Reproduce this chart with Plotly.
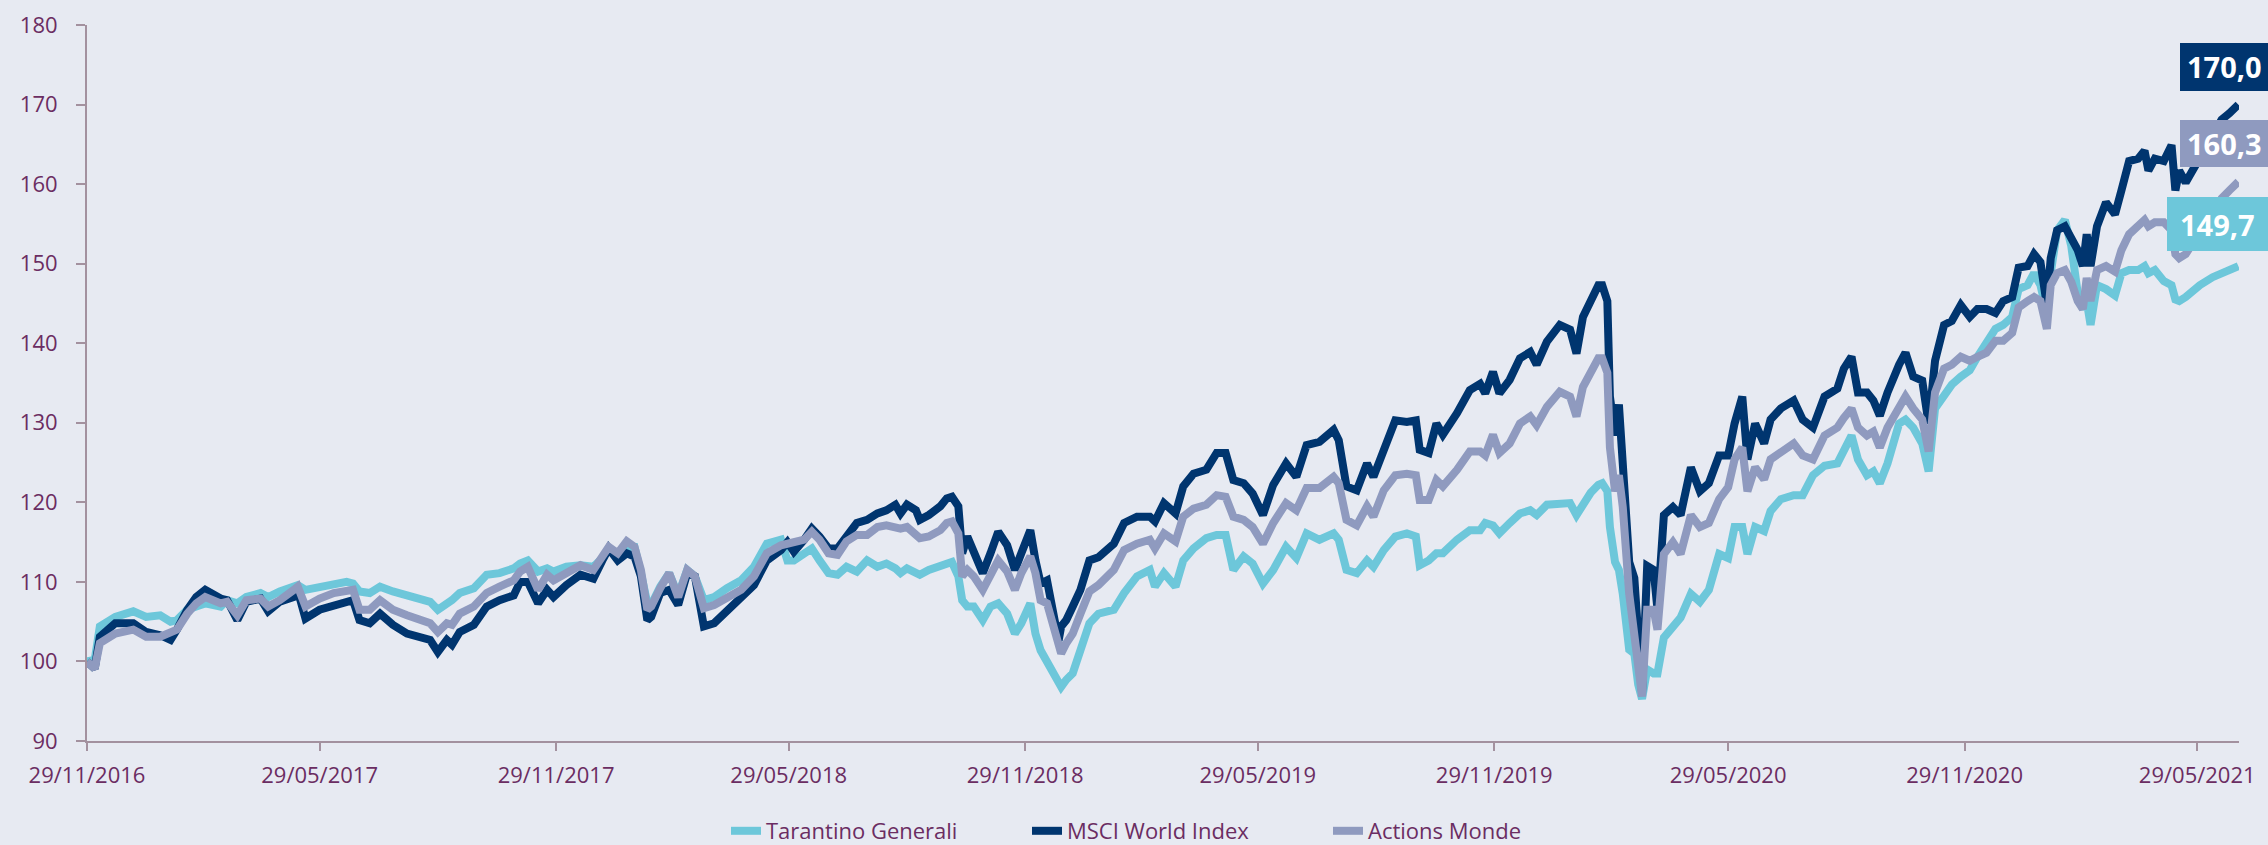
import pandas as pd
import plotly.graph_objects as go

# ---------------- data ----------------
start_date = "2016-11-29"
day_offsets = [
    0, 4, 6, 10, 18, 22, 36, 46, 57, 65, 70, 78, 85, 92, 104, 109, 117, 124, 135, 141,
    150, 161, 164, 170, 181, 192, 202, 207, 212, 220, 228, 238, 249, 259, 267, 273, 280, 284, 290, 301,
    311, 321, 332, 337, 343, 351, 358, 363, 373, 384, 394,
    401, 406, 413, 420, 426, 431, 436, 439, 446, 453, 460, 467, 473, 480, 488, 498, 509, 519, 529, 540,
    545, 550, 558, 564, 570, 577, 584, 591, 599, 607, 615, 622, 629, 633, 638, 645, 648, 655, 664, 669,
    673, 678, 681, 685, 690, 697, 703, 709, 716, 722, 727, 734, 738, 742, 747, 751, 756, 758, 762, 767,
    773, 780, 787, 799, 807, 817, 827, 831, 838, 847, 853, 861, 871, 879, 886, 892, 900, 907, 915, 923,
    933, 941, 949, 959, 970, 974, 980, 988, 996, 1001, 1009, 1018, 1027, 1034, 1037, 1044, 1050, 1055, 1066, 1076,
    1084, 1088, 1094, 1099, 1107, 1115, 1123, 1128, 1136, 1146, 1154, 1159, 1164, 1170, 1176,
    1179, 1183, 1185, 1189, 1192, 1195, 1200, 1204, 1207, 1210, 1214, 1219, 1222, 1227, 1234, 1240, 1248, 1255, 1262, 1270,
    1277, 1282, 1288, 1292, 1298, 1305, 1310, 1318, 1328, 1335, 1343, 1352, 1362, 1367, 1373, 1378, 1385, 1390, 1395, 1401,
    1410, 1415, 1421, 1428, 1433, 1438, 1445, 1451, 1458, 1465, 1471, 1478, 1485, 1491, 1498, 1503, 1510, 1515, 1520, 1525,
    1528, 1533, 1539, 1544, 1549, 1553, 1556, 1559, 1564, 1571, 1578, 1583, 1589, 1596, 1601, 1604, 1609, 1616, 1622, 1625,
    1628, 1633, 1638, 1644, 1654, 1661, 1667, 1674,
]

tarantino_generali = [
    100.0, 100.3, 100.2, 104.4, 105.4, 105.6, 106.3, 105.6, 105.8, 105.0, 105.2, 106.5, 106.9, 107.3, 106.9, 107.7, 107.3, 108.1, 108.6, 108.1,
    108.8, 109.4, 109.6, 109.0, 109.4, 109.6, 110.0, 109.8, 108.8, 108.6, 109.4, 108.8, 108.3, 107.7, 107.5, 106.5, 107.1, 107.7, 108.6, 109.2,
    110.9, 111.1, 111.7, 112.3, 112.7, 111.3, 111.7, 111.3, 111.9, 112.1, 111.9,
    113.0, 114.2, 113.2, 114.4, 114.4, 111.1, 107.3, 107.1, 109.4, 111.1, 108.3, 111.5, 110.7, 107.7, 108.1, 109.2, 110.2, 111.9, 114.8, 115.3,
    112.7, 112.7, 113.6, 114.2, 112.7, 111.1, 110.9, 111.9, 111.3, 112.7, 111.9, 112.3, 111.7, 111.1, 111.7, 111.3, 110.9, 111.5, 112.1, 112.3,
    112.5, 110.7, 107.7, 106.9, 106.9, 105.2, 106.9, 107.3, 106.0, 103.5, 104.8, 107.3, 103.5, 101.4, 99.8, 98.5, 97.0, 96.8, 97.7, 98.5,
    101.4, 104.8, 106.0, 106.5, 108.6, 110.7, 111.5, 109.4, 111.1, 109.4, 112.7, 114.2, 115.5, 115.9, 115.9, 111.5, 113.2, 112.3, 109.8, 111.5,
    114.4, 113.0, 116.1, 115.3, 116.1, 115.3, 111.5, 111.1, 112.7, 111.9, 114.0, 115.7, 116.1, 115.7, 112.1, 112.7, 113.6, 113.6, 115.3, 116.5,
    116.5, 117.4, 117.1, 116.1, 117.4, 118.6, 119.0, 118.4, 119.7, 119.9, 119.9, 118.4, 119.9, 121.2, 122.2,
    122.4, 121.4, 116.9, 112.5, 111.5, 108.5, 101.5, 101.0, 97.1, 95.3, 99.0, 98.5, 98.5, 103.0, 104.5, 105.5, 108.5, 107.5, 109.0, 113.5,
    113.0, 116.9, 116.9, 113.5, 116.9, 116.4, 118.9, 120.4, 120.9, 120.9, 123.4, 124.6, 124.9, 126.4, 128.4, 125.4, 123.4, 123.9, 122.4, 124.9,
    129.9, 130.4, 129.4, 127.4, 123.9, 131.8, 133.3, 134.8, 135.8, 136.6, 138.3, 140.3, 141.8, 142.3, 143.3, 146.8, 147.3, 148.8, 147.3, 143.8,
    148.8, 154.2, 155.5, 152.2, 146.3, 144.3, 145.3, 142.3, 147.3, 146.8, 146.0, 148.8, 149.2, 149.2, 149.7, 148.8, 149.2, 147.8, 147.3, 145.5,
    145.3, 145.8, 146.5, 147.3, 148.3, 148.8, 149.2, 149.7,
]

msci_world_index = [
    100.0, 99.3, 99.1, 103.1, 104.2, 104.8, 104.8, 103.7, 103.3, 102.7, 104.0, 106.5, 108.1, 109.0, 107.9, 107.7, 105.2, 107.5, 107.9, 106.3,
    107.5, 108.1, 108.9, 105.4, 106.5, 106.9, 107.5, 107.7, 105.2, 104.8, 106.0, 104.6, 103.5, 103.1, 102.7, 101.2, 102.7, 102.1, 103.7, 104.6,
    106.9, 107.7, 108.3, 110.0, 110.0, 107.3, 109.0, 108.1, 109.6, 110.9, 110.4,
    112.7, 114.2, 112.7, 113.6, 113.2, 110.7, 105.2, 105.6, 108.6, 109.0, 107.1, 111.1, 110.7, 104.4, 104.8, 106.3, 108.1, 109.6, 112.7, 114.0,
    115.0, 113.8, 115.3, 116.7, 115.7, 114.2, 114.2, 115.9, 117.4, 117.8, 118.6, 119.0, 119.7, 118.6, 119.7, 119.0, 117.8, 118.4, 119.5, 120.5,
    120.7, 119.5, 113.6, 115.7, 113.6, 111.1, 113.6, 116.3, 114.6, 111.5, 113.6, 116.5, 112.7, 109.8, 110.2, 106.9, 102.6, 104.4, 105.2, 106.9,
    109.0, 112.7, 113.1, 114.8, 117.4, 118.2, 118.2, 117.6, 119.9, 118.6, 122.0, 123.6, 124.1, 126.2, 126.2, 122.8, 122.4, 121.1, 118.4, 122.2,
    124.9, 123.2, 127.2, 127.6, 129.1, 127.8, 122.0, 121.5, 124.9, 123.2, 126.6, 130.3, 130.1, 130.3, 126.6, 126.2, 129.9, 128.5, 131.2, 134.1,
    134.9, 133.7, 136.4, 133.7, 135.4, 138.1, 138.9, 137.3, 140.2, 142.3, 141.7, 138.7, 143.3, 145.3, 147.3,
    147.3, 145.3, 133.3, 128.4, 132.3, 124.4, 112.5, 110.5, 101.0, 96.1, 112.0, 111.5, 106.5, 118.4, 119.4, 118.4, 124.4, 121.4, 122.4, 125.9,
    125.9, 129.9, 133.3, 125.4, 129.9, 127.4, 130.4, 131.8, 132.8, 130.4, 129.4, 133.3, 134.3, 136.8, 138.3, 133.8, 133.8, 132.8, 130.9, 133.8,
    137.3, 138.8, 135.8, 135.3, 129.9, 137.8, 142.3, 142.8, 144.8, 143.3, 144.3, 144.3, 143.8, 145.3, 145.8, 149.5, 149.7, 151.2, 150.2, 144.8,
    150.7, 154.2, 154.7, 153.2, 151.7, 149.7, 153.7, 149.7, 154.7, 157.7, 156.2, 159.2, 162.9, 163.2, 164.2, 161.7, 163.2, 162.9, 164.9, 159.2,
    161.7, 160.2, 161.7, 163.5, 166.0, 168.1, 168.9, 170.0,
]

actions_monde = [
    100.0, 99.4, 99.1, 102.3, 103.1, 103.5, 104.0, 103.1, 103.1, 103.5, 104.0, 106.0, 107.3, 108.1, 107.3, 107.5, 105.8, 107.7, 107.9, 106.9,
    107.7, 109.0, 109.4, 106.9, 107.9, 108.6, 109.0, 109.0, 106.5, 106.5, 107.7, 106.5, 105.8, 105.2, 104.8, 103.7, 104.8, 104.6, 106.0, 106.9,
    108.6, 109.4, 110.2, 111.3, 111.9, 109.0, 110.9, 110.2, 111.1, 112.1, 111.5,
    113.2, 114.4, 113.6, 115.1, 114.4, 111.5, 106.5, 106.9, 109.2, 111.1, 108.1, 111.5, 110.7, 106.7, 107.1, 107.9, 109.0, 110.7, 113.6, 114.6,
    114.8, 114.8, 115.3, 116.3, 115.3, 113.6, 113.4, 115.1, 115.9, 115.9, 116.9, 117.1, 116.9, 116.7, 116.9, 115.9, 115.5, 115.7, 116.5, 117.4,
    117.6, 116.1, 110.7, 111.5, 110.7, 109.0, 110.7, 112.7, 111.3, 109.0, 111.1, 113.2, 111.1, 107.7, 107.3, 104.8, 101.4, 101.0, 102.3, 103.5,
    106.0, 108.8, 109.6, 111.5, 114.0, 114.8, 115.3, 114.2, 116.1, 115.1, 118.2, 119.2, 119.7, 120.9, 120.7, 118.2, 117.8, 116.9, 114.8, 117.4,
    119.9, 119.0, 121.8, 121.8, 123.2, 122.4, 117.8, 117.1, 119.5, 118.2, 121.5, 123.4, 123.6, 123.4, 120.3, 120.3, 122.8, 122.0, 124.1, 126.4,
    126.4, 125.9, 128.5, 126.2, 127.4, 129.9, 130.8, 129.7, 132.0, 133.9, 133.3, 130.8, 134.5, 136.5, 138.1,
    138.1, 136.3, 126.9, 121.4, 123.4, 119.4, 108.5, 103.5, 98.5, 95.6, 106.5, 106.5, 104.0, 113.5, 115.0, 113.5, 118.4, 116.9, 117.4, 120.4,
    121.9, 125.4, 126.9, 121.4, 124.4, 122.9, 125.4, 126.4, 127.4, 125.9, 125.4, 128.4, 129.4, 130.6, 131.8, 129.4, 128.4, 128.9, 126.9, 129.4,
    131.8, 133.3, 131.8, 130.4, 126.4, 133.8, 136.8, 137.3, 138.3, 137.8, 138.3, 138.8, 140.3, 140.3, 141.3, 144.5, 145.3, 145.8, 145.3, 141.8,
    147.3, 148.8, 149.2, 147.7, 145.3, 144.3, 148.2, 145.3, 149.2, 149.7, 149.0, 151.7, 153.7, 154.7, 155.5, 154.7, 155.2, 155.2, 154.2, 151.2,
    150.7, 151.2, 152.5, 154.0, 156.0, 158.2, 159.2, 160.3,
]

series_names = ["Tarantino Generali", "MSCI World Index", "Actions Monde"]
tick_labels = ["29/11/2016", "29/05/2017", "29/11/2017", "29/05/2018", "29/11/2018",
               "29/05/2019", "29/11/2019", "29/05/2020", "29/11/2020", "29/05/2021"]

assert len(day_offsets) == len(tarantino_generali) == len(msci_world_index) == len(actions_monde)

# ---------------- styling ----------------
TEAL = "#6DC7DA"
NAVY = "#00356F"
LAV = "#8F9ABF"
BG = "#E7EAF2"
TXT = "#6B2D62"
AXIS = "#A3919F"
FONT = "Open Sans"

W, H = 2268, 845
L, R, T, B = 87, 29, 25, 104

dates = pd.Timestamp(start_date) + pd.to_timedelta(day_offsets, unit="D")
tickvals = pd.to_datetime(tick_labels, format="%d/%m/%Y")
x_end = pd.Timestamp(start_date) + pd.Timedelta(days=1674.5)

plot_w = W - L - R
plot_h = H - T - B
def px_to_paper_x(px):
    return (px - L) / plot_w
def px_to_paper_y(py):
    return (H - B - py) / plot_h

fig = go.Figure()
for name, vals, col in zip(series_names,
                           [tarantino_generali, msci_world_index, actions_monde],
                           [TEAL, NAVY, LAV]):
    fig.add_trace(go.Scatter(x=dates, y=vals, mode="lines", name=name,
                             line=dict(color=col, width=8)))

fig.update_layout(
    width=W, height=H, autosize=False,
    margin=dict(l=L, r=R, t=T, b=B, autoexpand=False),
    paper_bgcolor=BG, plot_bgcolor=BG,
    font=dict(family=FONT, size=22, color=TXT),
    showlegend=True,
    legend=dict(orientation="h", xref="container", yref="container",
                x=726 / W, xanchor="left",
                y=1 - 831 / H, yanchor="middle",
                entrywidth=256, entrywidthmode="pixels",
                font=dict(family=FONT, size=22, color=TXT),
                bgcolor="rgba(0,0,0,0)"),
)
fig.update_xaxes(type="date", range=[pd.Timestamp(start_date), x_end],
                 tickmode="array", tickvals=tickvals, ticktext=tick_labels,
                 showgrid=False, zeroline=False,
                 showline=True, linecolor=AXIS, linewidth=2,
                 ticks="outside", ticklen=8, tickwidth=2, tickcolor=AXIS,
                 ticklabelstandoff=6,
                 tickfont=dict(family=FONT, size=22, color=TXT))
fig.update_yaxes(range=[90, 180], dtick=10, tick0=90,
                 showgrid=False, zeroline=False,
                 showline=True, linecolor=AXIS, linewidth=2,
                 ticks="outside", ticklen=9, tickwidth=2, tickcolor=AXIS,
                 ticklabelstandoff=14,
                 tickfont=dict(family=FONT, size=22, color=TXT))

# end-value labels (boxes to the right of the line ends)
end_labels = [
    (msci_world_index[-1], NAVY, 2180, 2268, 43, 91),
    (actions_monde[-1], LAV, 2180, 2268, 120, 167),
    (tarantino_generali[-1], TEAL, 2167, 2268, 197, 251),
]
for val, col, x0, x1, y0, y1 in end_labels:
    fig.add_shape(type="rect", xref="paper", yref="paper",
                  x0=px_to_paper_x(x0), x1=px_to_paper_x(x1),
                  y0=px_to_paper_y(y1), y1=px_to_paper_y(y0),
                  fillcolor=col, line=dict(width=0), layer="above")
    fig.add_annotation(xref="paper", yref="paper",
                       x=px_to_paper_x((x0 + x1) / 2), y=px_to_paper_y((y0 + y1) / 2),
                       text=f"<b>{val:.1f}</b>".replace(".", ","),
                       showarrow=False, xanchor="center", yanchor="middle",
                       font=dict(family=FONT, size=29, color="white"))

fig.write_html("out.html", config={"displayModeBar": False},
               post_script="document.body.style.margin='0';document.body.style.overflow='hidden';")
